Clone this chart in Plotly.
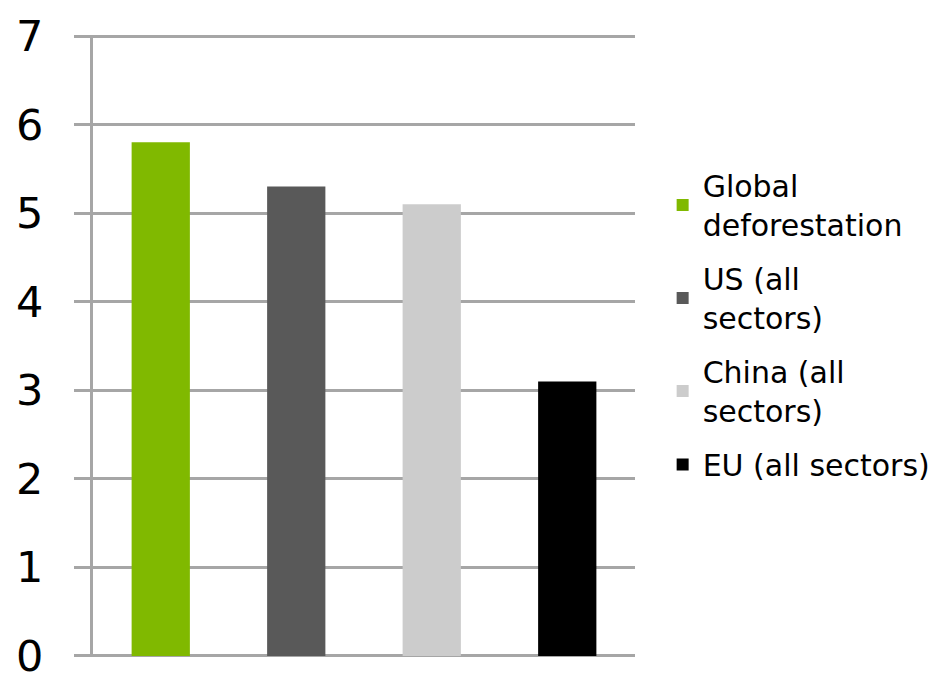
import plotly.graph_objects as go

# Series shown as separate bars, one per position along the x axis
series_names = [
    "Global<br>deforestation",
    "US (all<br>sectors)",
    "China (all<br>sectors)",
    "EU (all sectors)",
]
series_values = [5.8, 5.3, 5.1, 3.1]
series_colors = ["#80b900", "#595959", "#cccccc", "#000000"]
y_ticks = [0, 1, 2, 3, 4, 5, 6, 7]

fig = go.Figure()
for i, (name, val, col) in enumerate(zip(series_names, series_values, series_colors)):
    fig.add_trace(go.Bar(
        x=[i], y=[val], name=name, width=0.43,
        marker=dict(color=col, line=dict(width=0)),
        legendgroup=str(i),
    ))

fig.update_layout(
    width=952, height=674,
    margin=dict(l=93, r=317, t=35, b=17),
    paper_bgcolor="white", plot_bgcolor="white",
    barmode="overlay",
    font=dict(family="Verdana, DejaVu Sans, sans-serif", color="black"),
    showlegend=True,
    legend=dict(
        x=1.051, xanchor="left", y=0.80, yanchor="top",
        font=dict(size=30, color="black"),
        tracegroupgap=12,
        itemclick=False,
    ),
    xaxis=dict(
        range=[-0.5, 3.5], showticklabels=False, ticks="",
        showgrid=False, zeroline=False, showline=False,
        automargin=False,
    ),
    yaxis=dict(
        # a hair of headroom so the gridlines at 0 and 7 are kept
        range=[-0.012, 7.012], tickvals=y_ticks,
        tickfont=dict(size=43, color="black"),
        ticklabeloverflow="allow",
        showgrid=True, gridcolor="#a6a6a6", gridwidth=3,
        zeroline=False,
        showline=True, linecolor="#a6a6a6", linewidth=3,
        ticks="outside", ticklen=16, tickwidth=3, tickcolor="#a6a6a6",
        ticklabelstandoff=22,
        automargin=False,
    ),
)

fig.write_html("out.html")
